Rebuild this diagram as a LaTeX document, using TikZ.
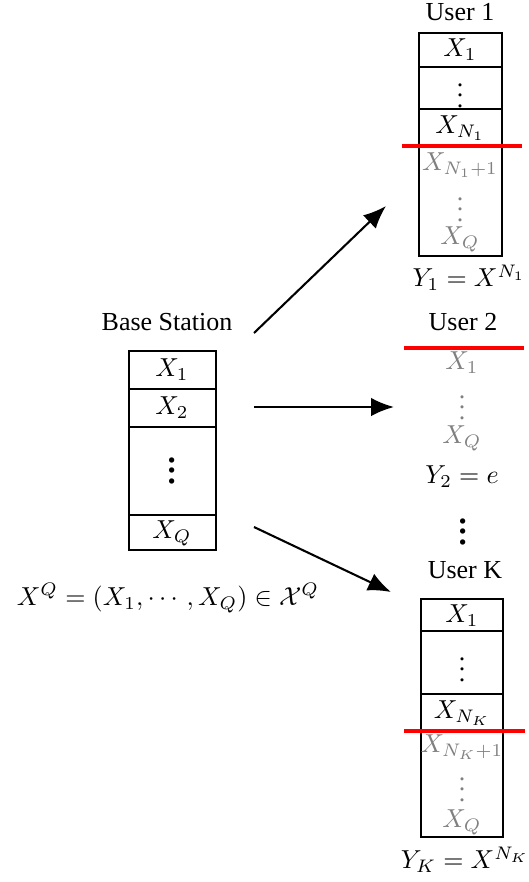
\documentclass[tikz,border=0pt]{standalone}
\usepackage{amsmath,amssymb}
\usepackage{fontspec}
\setmainfont{Liberation Serif}
\usetikzlibrary{arrows.meta}

\begin{document}
\begin{tikzpicture}[x=0.385pt, y=-0.385pt,
  every node/.style={inner sep=1pt},
  stack/.style={draw, line width=0.8pt},
  faded/.style={text=gray},
  cut/.style={draw=red, line width=1.2pt},
  flow/.style={-{Latex[length=3.1mm,width=2.5mm]}, line width=0.8pt}
]
\useasboundingbox (0,0) rectangle (528,882);

% base station
\node (bs) at (167,322) {Base Station};
\draw[stack] (129,351) rectangle (216,550);
\draw[stack] (129,389) -- (216,389);
\draw[stack] (129,427) -- (216,427);
\draw[stack] (129,515) -- (216,515);
\node (bsa) at (172,370) {$X_1$};
\node (bsb) at (172,408) {$X_2$};
\node (bsdots) at (172,463) {\LARGE$\vdots$};
\node (bsq) at (172,533) {$X_Q$};
\node (bsrule) at (168,598) {$X^Q = (X_1,\cdots,X_Q) \in \mathcal{X}^Q$};

% user 1
\node (ua) at (460,12) {User 1};
\draw[stack] (419,33) rectangle (502,256);
\draw[stack] (419,67) -- (502,67);
\draw[stack] (419,109) -- (502,109);
\draw[cut] (402,146) -- (522,146);
\node (uaa) at (460,50) {$X_1$};
\node (uadots) at (460,88) {$\vdots$};
\node (uan) at (460,128) {$X_{N_1}$};
\node[faded] (uanp) at (460,165) {$X_{N_1+1}$};
\node[faded] (uafdots) at (460,202) {$\vdots$};
\node[faded] (uaq) at (460,239) {$X_Q$};
\node (uay) at (469,278) {$Y_1 = X^{N_1}$};

% user 2
\node (ub) at (463,322) {User 2};
\draw[cut] (404,348) -- (524,348);
\node[faded] (uba) at (462,363) {$X_1$};
\node[faded] (ubdots) at (462,400) {$\vdots$};
\node[faded] (ubq) at (462,438) {$X_Q$};
\node (uby) at (462,477) {$Y_2 = e$};
\node (udots) at (463,524) {\LARGE$\vdots$};

% user K
\node (uk) at (465,570) {User K};
\draw[stack] (421,599) rectangle (503,837);
\draw[stack] (421,631) -- (503,631);
\draw[stack] (421,694) -- (503,694);
\draw[cut] (404,731) -- (525,731);
\node (uka) at (462,616) {$X_1$};
\node (ukdots) at (462,662) {$\vdots$};
\node (ukn) at (462,713) {$X_{N_K}$};
\node[faded] (uknp) at (462,747) {$X_{N_K+1}$};
\node[faded] (ukfdots) at (462,782) {$\vdots$};
\node[faded] (ukq) at (462,822) {$X_Q$};
\node (uky) at (465,860) {$Y_K = X^{N_K}$};

% links
\coordinate (s1) at (254,333);
\coordinate (e1) at (386,206);
\coordinate (s2) at (254,407);
\coordinate (e2) at (394,407);
\coordinate (s3) at (254,527);
\coordinate (e3) at (391,592);
\draw[flow] (s1) -- (e1);
\draw[flow] (s2) -- (e2);
\draw[flow] (s3) -- (e3);
\end{tikzpicture}
\end{document}
